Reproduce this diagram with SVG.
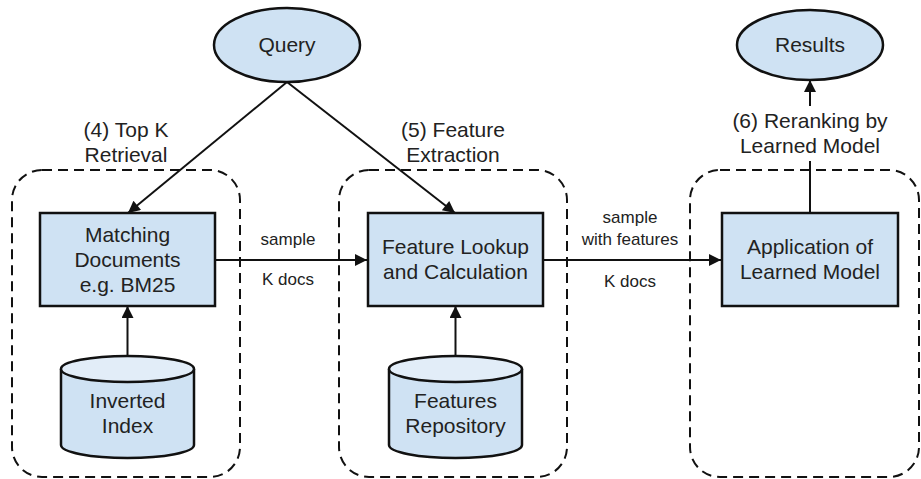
<svg xmlns="http://www.w3.org/2000/svg" width="921" height="479" viewBox="0 0 921 479">
  <style>
    .bg { fill: #ffffff; }
    .stage { fill: none; stroke: #111; stroke-width: 2; stroke-dasharray: 10 6; }
    .box { fill: #cfe2f3; stroke: #111; stroke-width: 2.5; }
    .cyl-top { fill: #e2edf8; stroke: #111; stroke-width: 2.5; }
    .edge { fill: none; stroke: #111; stroke-width: 2; }
    text { font-family: "Liberation Sans", Arial, sans-serif; fill: #222; text-anchor: middle; }
    .node-text { font-size: 21px; }
    .step { font-size: 21px; }
    .small { font-size: 17px; }
  </style>
  <defs>
    <marker id="arrow" viewBox="0 0 10 10" refX="10" refY="5" markerWidth="14" markerHeight="12" markerUnits="userSpaceOnUse" orient="auto">
      <path d="M0,0 L10,5 L0,10 z" fill="#111"/>
    </marker>
  </defs>

  <rect class="bg" x="0" y="0" width="921" height="479"/>

  <!-- pipeline stages (dashed containers) -->
  <g id="stage-retrieval">
    <rect class="stage" x="12" y="170" width="228" height="307" rx="30" ry="30"/>
  </g>
  <g id="stage-features">
    <rect class="stage" x="339" y="170" width="228" height="307" rx="30" ry="30"/>
  </g>
  <g id="stage-rerank">
    <rect class="stage" x="690" y="170" width="229" height="307" rx="30" ry="30"/>
  </g>

  <!-- connectors -->
  <g id="connectors">
    <line class="edge" x1="287" y1="82" x2="128" y2="213" marker-end="url(#arrow)"/>
    <line class="edge" x1="287" y1="82" x2="455" y2="213" marker-end="url(#arrow)"/>
    <line class="edge" x1="215" y1="260" x2="367" y2="260" marker-end="url(#arrow)"/>
    <line class="edge" x1="543" y1="260" x2="721" y2="260" marker-end="url(#arrow)"/>
    <line class="edge" x1="127.5" y1="356" x2="127.5" y2="306" marker-end="url(#arrow)"/>
    <line class="edge" x1="455.5" y1="356" x2="455.5" y2="306" marker-end="url(#arrow)"/>
    <line class="edge" x1="810" y1="213" x2="810" y2="161"/>
    <line class="edge" x1="810" y1="106" x2="810" y2="80" marker-end="url(#arrow)"/>
  </g>

  <!-- step labels -->
  <g id="label-topk">
    <text class="step" x="126" y="137">(4) Top K</text>
    <text class="step" x="126" y="162">Retrieval</text>
  </g>
  <g id="label-extraction">
    <text class="step" x="453" y="137">(5) Feature</text>
    <text class="step" x="453" y="162">Extraction</text>
  </g>
  <g id="label-rerank">
    <text class="step" x="810" y="128">(6) Reranking by</text>
    <text class="step" x="810" y="153">Learned Model</text>
  </g>
  <g id="label-sample-k">
    <text class="small" x="288" y="245">sample</text>
    <text class="small" x="288" y="285">K docs</text>
  </g>
  <g id="label-sample-features">
    <text class="small" x="630" y="223">sample</text>
    <text class="small" x="630" y="245">with features</text>
    <text class="small" x="630" y="287">K docs</text>
  </g>

  <!-- nodes -->
  <g id="query">
    <ellipse class="box" cx="287" cy="45" rx="73" ry="37"/>
    <text class="node-text" x="287" y="52">Query</text>
  </g>
  <g id="results">
    <ellipse class="box" cx="810" cy="45" rx="73" ry="35"/>
    <text class="node-text" x="810" y="52">Results</text>
  </g>
  <g id="matching-documents">
    <rect class="box" x="40" y="213" width="175" height="93"/>
    <text class="node-text" x="127.5" y="242">Matching</text>
    <text class="node-text" x="127.5" y="267">Documents</text>
    <text class="node-text" x="127.5" y="292">e.g. BM25</text>
  </g>
  <g id="feature-lookup">
    <rect class="box" x="368" y="213" width="175" height="93"/>
    <text class="node-text" x="455.5" y="254">Feature Lookup</text>
    <text class="node-text" x="455.5" y="279">and Calculation</text>
  </g>
  <g id="learned-model">
    <rect class="box" x="722" y="213" width="176" height="93"/>
    <text class="node-text" x="810" y="254">Application of</text>
    <text class="node-text" x="810" y="279">Learned Model</text>
  </g>
  <g id="inverted-index">
    <path class="box" d="M61,369 V445 A66.5,13 0 0 0 194,445 V369"/>
    <ellipse class="cyl-top" cx="127.5" cy="369" rx="66.5" ry="13"/>
    <text class="node-text" x="127.5" y="408">Inverted</text>
    <text class="node-text" x="127.5" y="433">Index</text>
  </g>
  <g id="features-repository">
    <path class="box" d="M389,369 V445 A66.5,13 0 0 0 522,445 V369"/>
    <ellipse class="cyl-top" cx="455.5" cy="369" rx="66.5" ry="13"/>
    <text class="node-text" x="455.5" y="408">Features</text>
    <text class="node-text" x="455.5" y="433">Repository</text>
  </g>
</svg>
